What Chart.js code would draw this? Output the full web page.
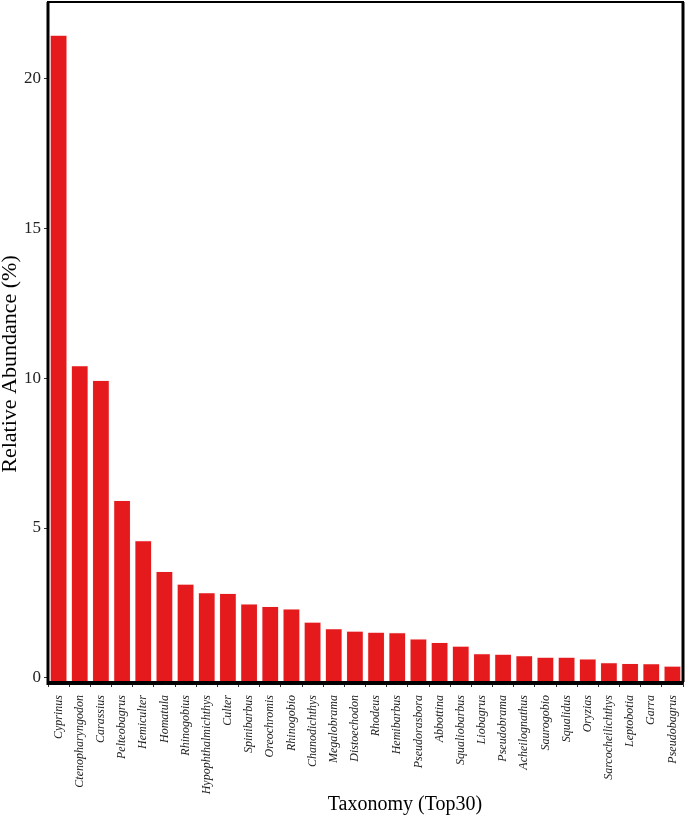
<!DOCTYPE html>
<html>
<head>
<meta charset="utf-8">
<script src="https://cdn.jsdelivr.net/npm/chart.js@4.4.1/dist/chart.umd.min.js"></script>
<style>
html,body{margin:0;padding:0;background:#fff;}
#wrap{width:685px;height:817px;position:relative;}
</style>
</head>
<body>
<div id="wrap"><canvas id="c" width="685" height="817"></canvas></div>
<script>
const categories = ["Cyprinus","Ctenopharyngodon","Carassius","Pelteobagrus","Hemiculter","Homatula","Rhinogobius","Hypophthalmichthys","Culter","Spinibarbus","Oreochromis","Rhinogobio","Chanodichthys","Megalobrama","Distoechodon","Rhodeus","Hemibarbus","Pseudorasbora","Abbottina","Squaliobarbus","Liobagrus","Pseudobrama","Acheilognathus","Saurogobio","Squalidus","Oryzias","Sarcocheilichthys","Leptobotia","Garra","Pseudobagrus"];
const abundance = [21.45,10.42,9.93,5.92,4.58,3.55,3.13,2.84,2.82,2.47,2.38,2.30,1.86,1.64,1.56,1.52,1.51,1.30,1.18,1.06,0.81,0.79,0.74,0.69,0.69,0.63,0.51,0.48,0.47,0.39];
const yTicks = [0,5,10,15,20];
const xTitle = 'Taxonomy (Top30)';
const yTitle = 'Relative Abundance (%)';
const yMin = -0.14, yMax = 22.56;

const borderPlugin = {
  id: 'panelBorder',
  afterDraw(chart){
    const a = chart.chartArea, ctx = chart.ctx;
    ctx.save();
    ctx.strokeStyle = '#000';
    ctx.lineWidth = 2;
    ctx.strokeRect(a.left, a.top, a.right - a.left, a.bottom - a.top);
    ctx.lineWidth = 3;
    ctx.beginPath();
    ctx.moveTo(a.left, a.top); ctx.lineTo(a.left, a.bottom + 1.5); ctx.lineTo(a.right, a.bottom + 1.5);
    ctx.stroke();
    ctx.beginPath();
    ctx.moveTo(a.right, a.top); ctx.lineTo(a.right, a.bottom);
    ctx.stroke();
    // axis titles
    ctx.fillStyle = '#000';
    ctx.textAlign = 'center';
    ctx.textBaseline = 'middle';
    ctx.font = '20px "Liberation Serif", serif';
    ctx.fillText(xTitle, 405, 805);
    ctx.translate(10, 364);
    ctx.rotate(-Math.PI / 2);
    ctx.font = '22px "Liberation Serif", serif';
    ctx.fillText(yTitle, 0, 0);
    ctx.restore();
  }
};

function noPad(s){ s.paddingTop = 0; s.paddingBottom = 0; s.paddingLeft = 0; s.paddingRight = 0; }

new Chart(document.getElementById('c'), {
  type: 'bar',
  data: {
    labels: categories,
    datasets: [{
      data: abundance,
      base: yMin,
      backgroundColor: '#E41A1C',
      borderColor: 'rgba(255,200,200,0.6)',
      borderWidth: 0.6,
      barPercentage: 0.8,
      categoryPercentage: 1.0
    }]
  },
  options: {
    responsive: false,
    animation: false,
    devicePixelRatio: 1,
    layout: { padding: { top: 2, right: 2, left: 0, bottom: 0 } },
    plugins: { legend: { display: false }, tooltip: { enabled: false } },
    scales: {
      x: {
        type: 'category',
        offset: true,
        grid: { display: true, drawOnChartArea: false, tickLength: 5, color: '#333', lineWidth: 1 },
        border: { display: false },
        ticks: {
          minRotation: 90, maxRotation: 90, autoSkip: false, padding: 8,
          color: '#222',
          font: { family: '"Liberation Serif", serif', size: 12, style: 'italic' }
        },
        title: { display: false },
        afterFit(s){ s.height = 135; noPad(s); }
      },
      y: {
        min: yMin, max: yMax,
        grid: { display: true, drawOnChartArea: false, tickLength: 4, color: '#333', lineWidth: 1 },
        border: { display: false },
        afterBuildTicks(s){ s.ticks = yTicks.map(v => ({ value: v })); },
        ticks: {
          padding: 3, color: '#222',
          font: { family: '"Liberation Serif", serif', size: 17 }
        },
        title: { display: false },
        afterFit(s){ s.width = 48; noPad(s); }
      }
    }
  },
  plugins: [borderPlugin]
});
</script>
</body>
</html>
